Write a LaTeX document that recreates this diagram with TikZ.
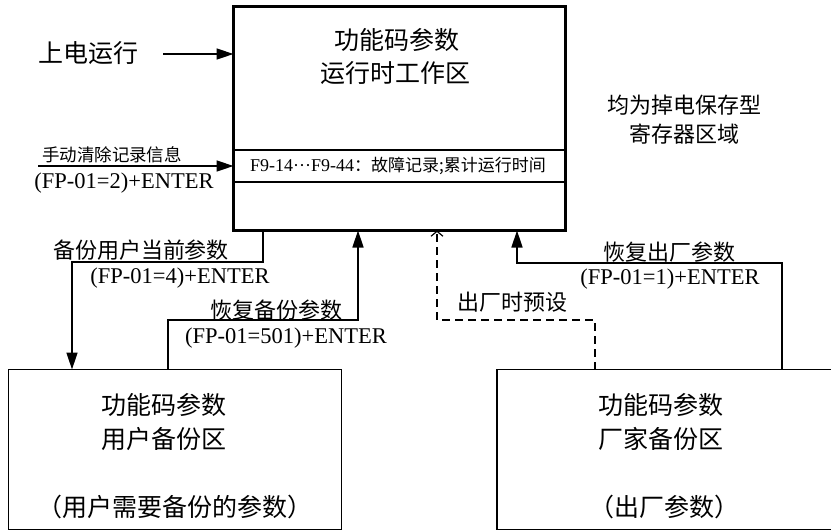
\documentclass[tikz,border=0pt]{standalone}
\usepackage{fontspec}
\setmainfont{Liberation Serif}
\newfontfamily\cjk{Noto Sans CJK SC}
\usetikzlibrary{arrows.meta,calc}
\tikzset{
  every node/.style={inner sep=0pt, outer sep=0pt},
  big/.style={font=\cjk\fontsize{25}{25}\selectfont},
  lbl/.style={font=\cjk\fontsize{22}{22}\selectfont},
  small/.style={font=\cjk\fontsize{17.5}{17.5}\selectfont},
  lat/.style={font=\fontsize{22.5}{22.5}\selectfont},
  box/.style={draw, line width=1.5pt},
  arr/.style={line width=1.5pt, -{Triangle[length=17pt,width=11pt]}},
  darr/.style={line width=1.5pt, dash pattern=on 8pt off 5pt, -{Straight Barb[length=5pt,width=12pt,line width=1.2pt]}},
}
\begin{document}
\begin{tikzpicture}[x=1pt,y=-1pt]
\useasboundingbox (0,0) rectangle (831,531);
% main box
\node[draw, line width=3pt, minimum width=332pt, minimum height=224pt] (main) at (399.5,118.5) {};
\coordinate (s1) at (0,150);
\coordinate (s2) at (0,182);
\draw[line width=1.5pt] (main.west |- s1) -- (main.east |- s1);
\draw[line width=1.5pt] (main.west |- s2) -- (main.east |- s2);
\node[big] (m1) at (397,40) {功能码参数};
\node[big] (m2) at (395,73) {运行时工作区};
\node[font=\fontsize{18}{18}\selectfont] (strip) at (398,166) {F9-14···F9-44{\cjk\fontsize{17}{17}\selectfont ：故障记录;累计运行时间}};
% side note
\node[lbl] (n1) at (684,105) {均为掉电保存型};
\node[lbl] (n2) at (684,134) {寄存器区域};
% power on
\node[big] (pwt) at (88,53) {上电运行};
\coordinate (pw) at (163,54);
\draw[arr] (pw) -- (pw -| main.west);
% manual clear
\coordinate (mc) at (38,166);
\draw[arr] (mc) -- (mc -| main.west);
\node[small] (mct) at (112,155) {手动清除记录信息};
\node[lat] (mcl) at (124,183) {(FP-01=2)+ENTER};
% lower boxes
\node[box, minimum width=333pt, minimum height=160pt] (ubox) at (175,449.5) {};
\node[box, minimum width=336pt, minimum height=160pt] (fbox) at (665,449.5) {};
\node[big] (u1) at (164,405) {功能码参数};
\node[big] (u2) at (164,439) {用户备份区};
\node[big] (u3) at (175,507) {（用户需要备份的参数）};
\node[big] (f1) at (661,405) {功能码参数};
\node[big] (f2) at (661,439) {厂家备份区};
\node[big] (f3) at (664,507) {（出厂参数）};
% backup user params
\coordinate (bk) at (263,262);
\coordinate (bkx) at (72,0);
\draw[arr] (bk |- main.south) -- (bk) -| (ubox.north -| bkx);
\node[lbl] (bkt) at (141,250) {备份用户当前参数};
\node[lat] (bkl) at (180,278) {(FP-01=4)+ENTER};
% restore backup
\coordinate (rb) at (168,320);
\coordinate (rbx) at (358,0);
\draw[arr] (rb |- ubox.north) -- (rb) -| (main.south -| rbx);
\node[lbl] (rbt) at (276,310) {恢复备份参数};
\node[lat] (rbl) at (286,338) {(FP-01=501)+ENTER};
% factory preset (dashed)
\coordinate (fp) at (595,320);
\coordinate (fpx) at (437,0);
\draw[darr] (fp |- fbox.north) -- (fp) -| (main.south -| fpx);
\node[lbl] (fpt) at (512,302) {出厂时预设};
% restore factory
\coordinate (rf) at (782,263);
\coordinate (rfx) at (517,0);
\draw[arr] (rf |- fbox.north) -- (rf) -| (main.south -| rfx);
\node[lbl] (rft) at (669,252) {恢复出厂参数};
\node[lat] (rfl) at (670,279) {(FP-01=1)+ENTER};
\end{tikzpicture}
\end{document}
